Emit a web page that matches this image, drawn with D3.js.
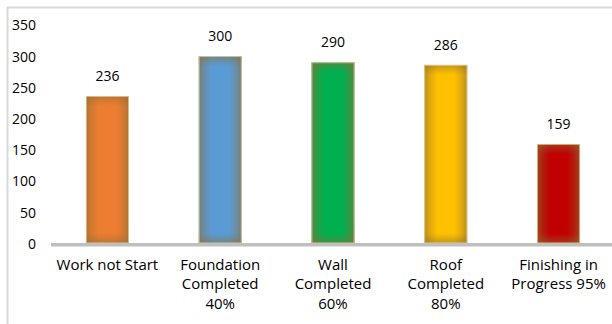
<!DOCTYPE html>
<html>
<head>
<meta charset="utf-8">
<script src="https://cdn.jsdelivr.net/npm/d3@7/dist/d3.min.js"></script>
<style>
  html, body { margin: 0; padding: 0; background: #fff; }
  svg { display: block; font-family: "Open Sans", "Noto Sans", sans-serif; }
</style>
</head>
<body>
<svg id="chart" width="612" height="324"></svg>
<script>
// Construction progress: number of houses at each stage
const categories = [
  ["Work not Start"],
  ["Foundation", "Completed", "40%"],
  ["Wall", "Completed", "60%"],
  ["Roof", "Completed", "80%"],
  ["Finishing in", "Progress 95%"]
];
const values = [236, 300, 290, 286, 159];
const colors = ["#ED7D31", "#5B9BD5", "#00B050", "#FFC000", "#C00000"];
const yTicks = [0, 50, 100, 150, 200, 250, 300, 350];

const svg = d3.select("#chart");
const W = 612, H = 324;

// Outer frame: only the top and left edges are visible
svg.append("line").attr("x1", 7).attr("x2", W).attr("y1", 7.5).attr("y2", 7.5)
  .attr("stroke", "#d9d9d9").attr("stroke-width", 2);
svg.append("line").attr("x1", 7.5).attr("x2", 7.5).attr("y1", 7).attr("y2", H)
  .attr("stroke", "#d9d9d9").attr("stroke-width", 2);

const x = d3.scaleBand()
  .domain(d3.range(categories.length))
  .range([51, 615])
  .paddingInner(0.62)
  .paddingOuter(0.31);

const y = d3.scaleLinear().domain([0, 350]).range([243.3, 25]);

// Y axis labels (no axis line, no ticks)
const yAxis = d3.axisLeft(y).tickValues(yTicks).tickSize(0).tickPadding(0);
const yg = svg.append("g").attr("transform", "translate(36,0)").call(yAxis);
yg.select(".domain").remove();
yg.selectAll("text")
  .attr("font-size", 14)
  .attr("fill", "#000")
  .attr("font-family", "'Open Sans', sans-serif")
  .attr("dy", "0.35em");

const defs = svg.append("defs");
const glow = "rgb(140,110,50)";

// Horizontal edge shading shared by all bars
const hg = defs.append("linearGradient").attr("id", "hshade")
  .attr("x1", 0).attr("x2", 1).attr("y1", 0).attr("y2", 0);
[[0, 0.65], [0.12, 0.3], [0.3, 0], [0.7, 0], [0.88, 0.3], [1, 0.65]].forEach(([o, a]) =>
  hg.append("stop").attr("offset", o).attr("stop-color", glow).attr("stop-opacity", a));

const bars = svg.append("g");
values.forEach((v, i) => {
  const bx = x(i), bw = x.bandwidth();
  const top = y(v), h = y(0) - top;
  const band = 10 / h;
  const vg = defs.append("linearGradient").attr("id", "vshade" + i)
    .attr("x1", 0).attr("x2", 0).attr("y1", 0).attr("y2", 1);
  [[0, 0.5], [band, 0], [1 - band, 0], [1, 0.5]].forEach(([o, a]) =>
    vg.append("stop").attr("offset", o).attr("stop-color", glow).attr("stop-opacity", a));

  const g = bars.append("g");
  g.append("rect").attr("x", bx).attr("y", top).attr("width", bw).attr("height", h)
    .attr("fill", colors[i]);
  g.append("rect").attr("x", bx).attr("y", top).attr("width", bw).attr("height", h)
    .attr("fill", "url(#hshade)");
  g.append("rect").attr("x", bx).attr("y", top).attr("width", bw).attr("height", h)
    .attr("fill", `url(#vshade${i})`);
  g.append("rect").attr("x", bx + 0.4).attr("y", top + 0.4).attr("width", bw - 0.8).attr("height", h - 0.8)
    .attr("fill", "none").attr("stroke", "#ecdcb0").attr("stroke-opacity", 0.8).attr("stroke-width", 0.8);

  // value label above the bar
  svg.append("text")
    .attr("x", bx + bw / 2).attr("y", top - 15)
    .attr("text-anchor", "middle")
    .attr("font-size", 14).attr("fill", "#000")
    .text(v);
});

// Category axis baseline
svg.append("line").attr("x1", 51).attr("x2", W).attr("y1", y(0) + 1.5).attr("y2", y(0) + 1.5)
  .attr("stroke", "#bfbfbf").attr("stroke-width", 3.5);

// Category labels, wrapped on several lines
categories.forEach((lines, i) => {
  const t = svg.append("text")
    .attr("x", x(i) + x.bandwidth() / 2)
    .attr("y", 270)
    .attr("text-anchor", "middle")
    .attr("font-size", 15).attr("fill", "#000");
  lines.forEach((s, j) => t.append("tspan")
    .attr("x", x(i) + x.bandwidth() / 2)
    .attr("y", 270 + j * 19.3)
    .text(s));
});
</script>
</body>
</html>
